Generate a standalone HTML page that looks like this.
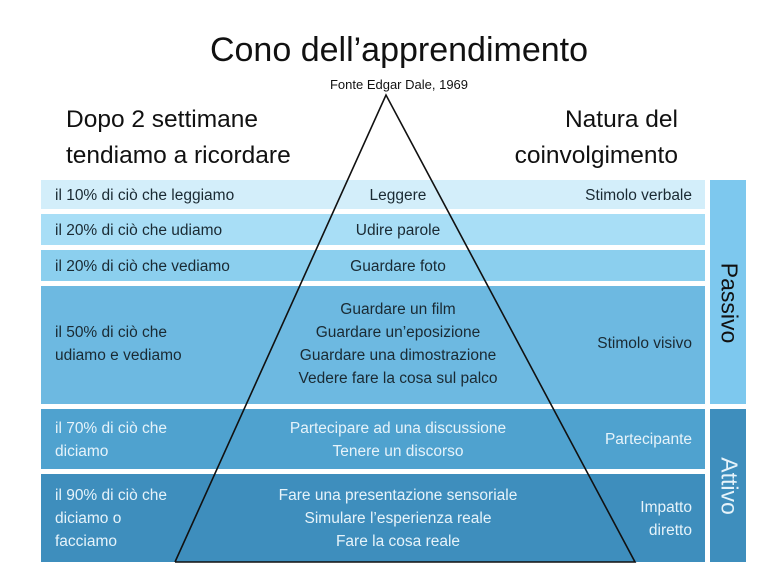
<!DOCTYPE html>
<html><head><meta charset="utf-8"><style>
body{margin:0;background:#fff;width:758px;height:575px;overflow:hidden;font-family:"Liberation Sans",sans-serif;}
.a{position:absolute}
.r{position:absolute;left:41px;width:664px}
.t{position:absolute;font-size:15.5px;color:#1a2a33;white-space:nowrap;line-height:23px}
.w{color:#e6f3fa}
</style></head><body>
<div class="a" style="left:0;width:798px;top:31px;text-align:center;font-size:34px;color:#111">Cono dell’apprendimento</div>
<div class="a" style="left:0;width:798px;top:77px;text-align:center;font-size:13px;color:#111">Fonte Edgar Dale, 1969</div>
<div class="a" style="left:66px;top:102px;font-size:24.5px;line-height:36px;color:#111">Dopo 2 settimane<br>tendiamo a ricordare</div>
<div class="a" style="right:80px;top:102px;font-size:24.5px;line-height:36px;color:#111;text-align:right">Natura del<br>coinvolgimento</div>

<div class="r" style="top:180px;height:29px;background:#d3eefa"></div>
<div class="r" style="top:214px;height:31px;background:#a8def6"></div>
<div class="r" style="top:250px;height:31px;background:#8bcfee"></div>
<div class="r" style="top:286px;height:118px;background:#6db9e1"></div>
<div class="r" style="top:409px;height:60px;background:#4fa2cf"></div>
<div class="r" style="top:474px;height:88px;background:#3e8ebd"></div>
<div class="a" style="left:710px;width:36px;top:180px;height:224px;background:#7dc8ee"></div>
<div class="a" style="left:710px;width:36px;top:409px;height:153px;background:#3e8ebd"></div>
<div class="a" style="left:729px;top:303px;transform:translate(-50%,-50%) rotate(90deg);font-size:23px;color:#111">Passivo</div>
<div class="a" style="left:729px;top:486px;transform:translate(-50%,-50%) rotate(90deg);font-size:23px;color:#e6f3fa">Attivo</div>

<svg class="a" style="left:0;top:0" width="758" height="575"><polyline points="175,562 386,95 635,562 175,562" fill="none" stroke="#111" stroke-width="1.6"/></svg>

<div class="t" style="left:55px;top:184px">il 10% di ciò che leggiamo</div>
<div class="t" style="left:55px;top:219px">il 20% di ciò che udiamo</div>
<div class="t" style="left:55px;top:255px">il 20% di ciò che vediamo</div>
<div class="t" style="left:55px;top:321px">il 50% di ciò che<br>udiamo e vediamo</div>
<div class="t w" style="left:55px;top:417px">il 70% di ciò che<br>diciamo</div>
<div class="t w" style="left:55px;top:484px">il 90% di ciò che<br>diciamo o<br>facciamo</div>

<div class="t" style="left:248px;width:300px;text-align:center;top:184px">Leggere</div>
<div class="t" style="left:248px;width:300px;text-align:center;top:219px">Udire parole</div>
<div class="t" style="left:248px;width:300px;text-align:center;top:255px">Guardare foto</div>
<div class="t" style="left:248px;width:300px;text-align:center;top:298px">Guardare un film<br>Guardare un’eposizione<br>Guardare una dimostrazione<br>Vedere fare la cosa sul palco</div>
<div class="t w" style="left:248px;width:300px;text-align:center;top:417px">Partecipare ad una discussione<br>Tenere un discorso</div>
<div class="t w" style="left:248px;width:300px;text-align:center;top:484px">Fare una presentazione sensoriale<br>Simulare l’esperienza reale<br>Fare la cosa reale</div>

<div class="t" style="right:66px;text-align:right;top:184px">Stimolo verbale</div>
<div class="t" style="right:66px;text-align:right;top:332px">Stimolo visivo</div>
<div class="t w" style="right:66px;text-align:right;top:428px">Partecipante</div>
<div class="t w" style="right:66px;text-align:right;top:496px">Impatto<br>diretto</div>
</body></html>
